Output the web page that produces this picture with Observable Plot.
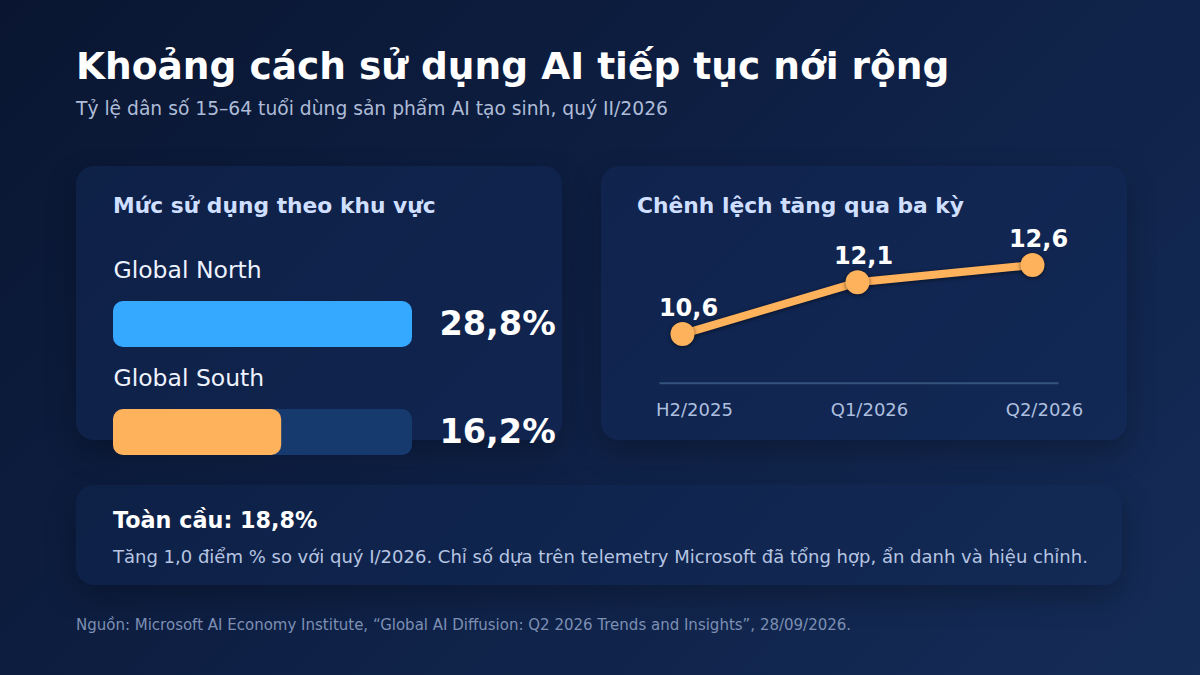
<!DOCTYPE html>
<html>
<head>
<meta charset="utf-8">
<script src="https://cdn.jsdelivr.net/npm/d3@7"></script>
<script src="https://cdn.jsdelivr.net/npm/@observablehq/plot@0.6"></script>
<style>
  html, body { margin: 0; padding: 0; }
  body {
    width: 1200px; height: 675px; overflow: hidden; position: relative;
    font-family: "DejaVu Sans", sans-serif;
    background: linear-gradient(135deg, #0a1631 0%, #0e2045 50%, #152c57 100%);
  }
  .abs { position: absolute; white-space: nowrap; }
  .card {
    position: absolute; border-radius: 18px;
    background: rgba(18, 42, 90, 0.48);
    box-shadow: 0 12px 30px rgba(0, 0, 0, 0.25);
  }
  .t { line-height: 1; }
  #line g[aria-label="line"], #line g[aria-label="dot"] { filter: drop-shadow(0 1px 2px rgba(0,0,0,0.55)); }
</style>
</head>
<body>
<div class="card" style="left:76px;top:166px;width:486px;height:274px;"></div>
<div class="card" style="left:601px;top:166px;width:526px;height:274px;"></div>
<div class="card" style="left:76px;top:485px;width:1046px;height:100px;background:rgba(18,42,90,0.35);"></div>

<div class="abs t" style="left:76px;top:48px;font-size:37.5px;font-weight:bold;color:#ffffff;">Khoảng cách sử dụng AI tiếp tục nới rộng</div>
<div class="abs t" style="left:76px;top:100px;font-size:18.7px;color:#aebcd8;">Tỷ lệ dân số 15–64 tuổi dùng sản phẩm AI tạo sinh, quý II/2026</div>

<div class="abs t" style="left:113px;top:195px;font-size:21.8px;font-weight:bold;color:#cfdfff;">Mức sử dụng theo khu vực</div>
<div class="abs t" style="left:637px;top:195px;font-size:21.8px;font-weight:bold;color:#cfdfff;">Chênh lệch tăng qua ba kỳ</div>

<div id="bars" class="abs" style="left:76px;top:240px;"></div>
<div id="line" class="abs" style="left:601px;top:220px;"></div>

<div class="abs t" style="left:113px;top:509px;font-size:22.3px;font-weight:bold;color:#ffffff;">Toàn cầu: 18,8%</div>
<div class="abs t" style="left:113px;top:548px;font-size:18px;color:#b7c5e2;">Tăng 1,0 điểm % so với quý I/2026. Chỉ số dựa trên telemetry Microsoft đã tổng hợp, ẩn danh và hiệu chỉnh.</div>
<div class="abs t" style="left:76px;top:618px;font-size:15px;color:#7d8fb3;">Nguồn: Microsoft AI Economy Institute, “Global AI Diffusion: Q2 2026 Trends and Insights”, 28/09/2026.</div>

<script>
// ---- data ----
const regions = ["Global North", "Global South"];
const regionUsage = [28.8, 16.2];
const regionColors = ["#35a8ff", "#ffb25c"];

const periods = ["H2/2025", "Q1/2026", "Q2/2026"];
const gapValues = [10.6, 12.1, 12.6];

// ---- helpers ----
const fmt = v => v.toFixed(1).replace(".", ",");
const barRows = regions.map((r, i) => ({region: r, value: regionUsage[i]}));
const xMax = d3.max(regionUsage);
const lineRows = periods.map((p, i) => ({period: p, gap: gapValues[i]}));

const font = "'DejaVu Sans', sans-serif";

const bars = Plot.plot({
  width: 490, height: 232, margin: 0,
  style: {background: "transparent", fontFamily: font, overflow: "visible"},
  x: {domain: [0, xMax], range: [37, 336], axis: null},
  y: {domain: regions, range: [60.7, 215.7], paddingInner: 0.571, paddingOuter: 0, axis: null},
  color: {domain: regions, range: regionColors},
  marks: [
    Plot.barX(barRows, {x: () => xMax, y: "region", fill: "#173a6e", rx: 10}),
    Plot.barX(barRows, {x: "value", y: "region", fill: "region", rx: 10}),
    Plot.text(barRows, {x: 0, y: "region", text: "region", textAnchor: "start", lineAnchor: "bottom", dy: -47, fontSize: 23.5, fill: "#eef3ff"}),
    Plot.text(barRows, {x: () => xMax, y: "region", text: d => fmt(d.value) + "%", textAnchor: "start", dx: 27, fontSize: 33.5, fontWeight: "bold", fill: "#ffffff"})
  ]
});
document.getElementById("bars").appendChild(bars);

const line = Plot.plot({
  width: 526, height: 220,
  marginLeft: 59, marginRight: 70, marginTop: 44.6, marginBottom: 57.3,
  style: {background: "transparent", fontFamily: font, overflow: "visible", color: "#aebfdf"},
  x: {type: "point", domain: periods, range: [81, 431], padding: 0, label: null},
  y: {domain: [d3.min(gapValues), d3.max(gapValues)], range: [113.6, 44.6], axis: null},
  marks: [
    Plot.frame({anchor: "bottom", stroke: "#34537f", strokeWidth: 2}),
    Plot.axisX({tickSize: 0, tickPadding: 20, dx: 12, fontSize: 18, label: null}),
    Plot.line(lineRows, {x: "period", y: "gap", stroke: "#ffb25c", strokeWidth: 8, strokeLinecap: "round", strokeLinejoin: "round"}),
    Plot.dot(lineRows, {x: "period", y: "gap", r: 12, fill: "#ffb25c"}),
    Plot.text(lineRows, {x: "period", y: "gap", text: d => fmt(d.gap), lineAnchor: "bottom", dy: -18.5, dx: 6, fontSize: 24, fontWeight: "bold", fill: "#ffffff"})
  ]
});
document.getElementById("line").appendChild(line);
</script>
</body>
</html>
